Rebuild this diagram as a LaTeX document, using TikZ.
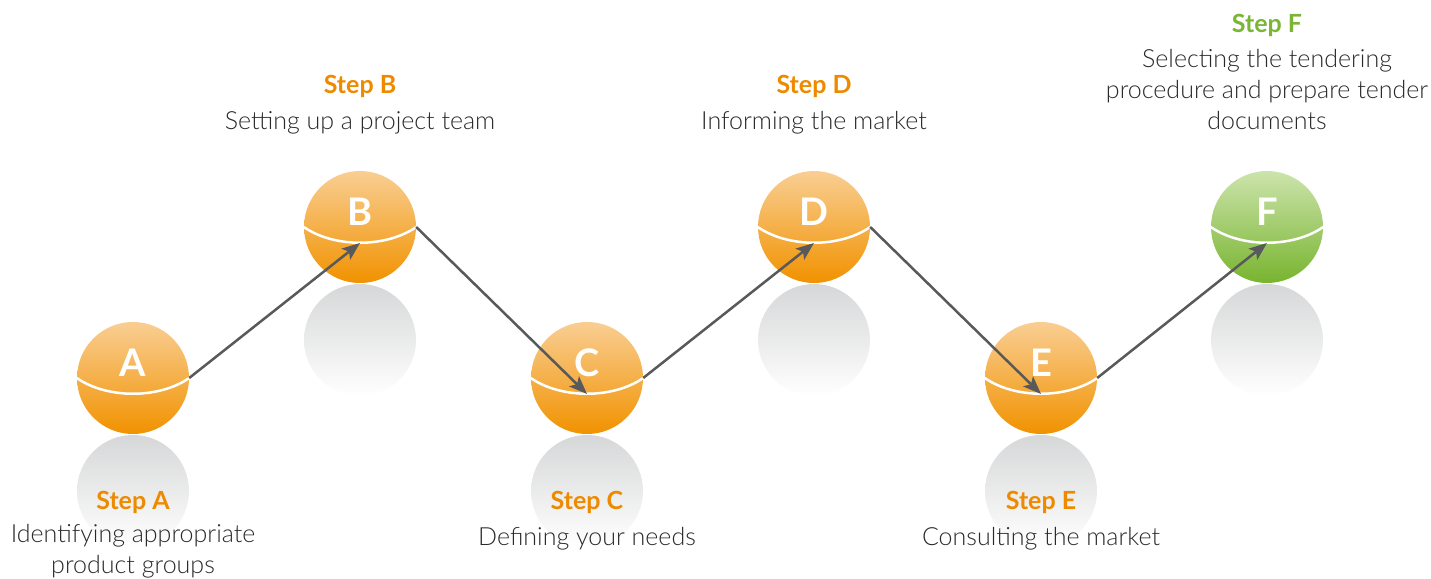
\documentclass[tikz,border=0pt]{standalone}
\usepackage{fontspec}
\IfFontExistsTF{Lato Light}{\setmainfont{Lato Light}[BoldFont=Lato Bold]}{\setmainfont{Lato}}
\usetikzlibrary{arrows.meta,calc}
\definecolor{orgtop}{HTML}{F9CE93}
\definecolor{orgbot}{HTML}{F19200}
\definecolor{grntop}{HTML}{CCE4AC}
\definecolor{grnbot}{HTML}{78B42F}
\definecolor{orgtxt}{HTML}{EE8A00}
\definecolor{grntxt}{HTML}{7AB536}
\definecolor{arrowc}{HTML}{58595B}
\definecolor{refl}{HTML}{D6D7D8}
\definecolor{desctxt}{HTML}{2A2A2A}
\begin{document}
\begin{tikzpicture}[x=1pt,y=-1pt,
  ball/.style={circle,minimum size=112pt,inner sep=0pt,shade,top color=orgtop,bottom color=orgbot},
  gball/.style={ball,top color=grntop,bottom color=grnbot},
  reflect/.style={circle,minimum size=112pt,inner sep=0pt,shade,top color=refl,middle color=refl!18!white,bottom color=white},
  letter/.style={anchor=base,text=white,font=\bfseries\fontsize{38}{38}\selectfont},
  head/.style={anchor=base,text=orgtxt,font=\bfseries\fontsize{25}{25}\selectfont},
  ghead/.style={head,text=grntxt},
  desc/.style={anchor=base,text=desctxt,font=\fontsize{25}{25}\selectfont},
  seam/.style={draw=white,line width=2.5pt},
  conn/.style={draw=arrowc,line width=2.5pt,-{Stealth[length=18pt,width=14pt,inset=4pt]}}
]
\useasboundingbox (0,0) rectangle (1431,578);

% reflections
\node[reflect] (Ar) at (133,491) {};
\node[reflect] (Br) at (360,340) {};
\node[reflect] (Cr) at (587,491) {};
\node[reflect] (Dr) at (814,340) {};
\node[reflect] (Er) at (1041,491) {};
\node[reflect] (Fr) at (1267,340) {};

% balls
\node[ball] (A) at (133,378) {};
\node[ball] (B) at (360,227) {};
\node[ball] (C) at (587,378) {};
\node[ball] (D) at (814,227) {};
\node[ball] (E) at (1041,378) {};
\node[gball] (F) at (1267,227) {};

% seams and bottom points
\foreach \n in {A,B,C,D,E,F}{
  \draw[seam] (\n.west) .. controls ($(\n.center)+(-26,21)$) and ($(\n.center)+(26,21)$) .. (\n.east);
  \coordinate (\n b) at ($(\n.center)+(0,16)$);
}

% letters
\node[letter] (Al) at (133,376) {A};
\node[letter] (Bl) at (360,225) {B};
\node[letter] (Cl) at (587,376) {C};
\node[letter] (Dl) at (814,225) {D};
\node[letter] (El) at (1041,376) {E};
\node[letter] (Fl) at (1267,225) {F};

% connectors
\draw[conn] (A.east) -- (Bb);
\draw[conn] (B.east) -- (Cb);
\draw[conn] (C.east) -- (Db);
\draw[conn] (D.east) -- (Eb);
\draw[conn] (E.east) -- (Fb);

% texts
\node[head] (Ah) at (133,509) {Step A};
\node[desc] (Ad1) at (133,542) {Identifying appropriate};
\node[desc] (Ad2) at (133,573) {product groups};

\node[head] (Bh) at (360,93) {Step B};
\node[desc] (Bd1) at (360,129) {Setting up a project team};

\node[head] (Ch) at (587,509) {Step C};
\node[desc] (Cd1) at (587,545) {Defining your needs};

\node[head] (Dh) at (814,93) {Step D};
\node[desc] (Dd1) at (814,129) {Informing the market};

\node[head] (Eh) at (1041,509) {Step E};
\node[desc] (Ed1) at (1041,545) {Consulting the market};

\node[ghead] (Fh) at (1267,33) {Step F};
\node[desc] (Fd1) at (1267,67) {Selecting the tendering};
\node[desc] (Fd2) at (1267,98) {procedure and prepare tender};
\node[desc] (Fd3) at (1267,129) {documents};
\end{tikzpicture}
\end{document}
